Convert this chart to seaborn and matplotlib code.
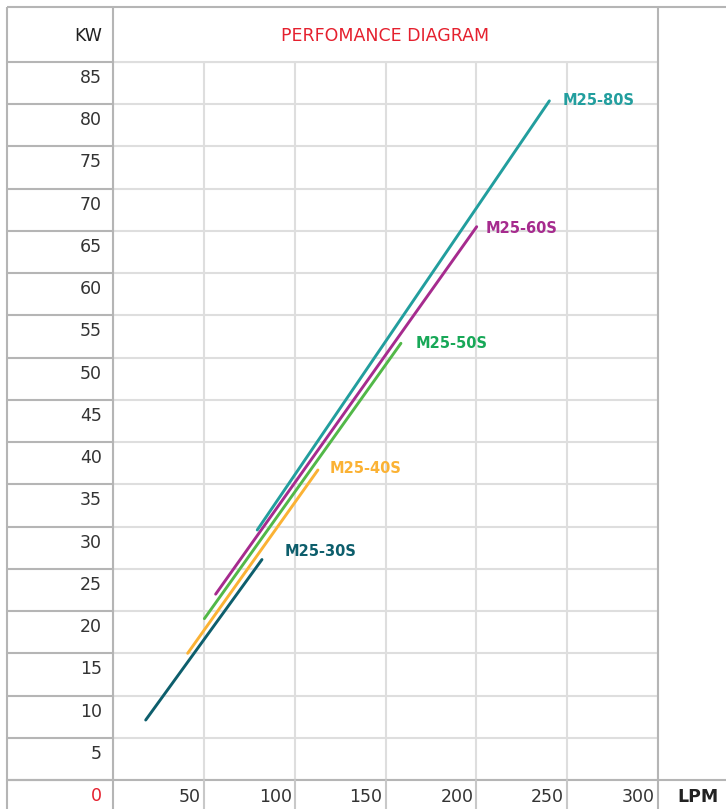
import matplotlib
matplotlib.use("Agg")
import matplotlib.pyplot as plt
import matplotlib.transforms as mtransforms
from matplotlib.lines import Line2D
import pandas as pd
import seaborn as sns

# ---------------- data ----------------
models = ["M25-30S", "M25-40S", "M25-50S", "M25-60S", "M25-80S"]
lpm_start = [18.0, 41.1, 50.3, 56.5, 79.4]
kw_start = [7.1, 15.0, 19.1, 22.0, 29.6]
lpm_end = [82.0, 112.8, 158.5, 200.2, 240.2]
kw_end = [26.1, 36.7, 51.7, 65.5, 80.4]

x_ticks = [50, 100, 150, 200, 250, 300]
y_ticks = [0, 5, 10, 15, 20, 25, 30, 35, 40, 45, 50, 55, 60, 65, 70, 75, 80, 85]
title_text = "PERFOMANCE DIAGRAM"
x_unit = "LPM"
y_unit = "KW"

# ---------------- styles ----------------
line_colors = {"M25-30S": "#0d5e6c", "M25-40S": "#fbb234", "M25-50S": "#52b848",
               "M25-60S": "#a62b8e", "M25-80S": "#229e9e"}
label_colors = {"M25-30S": "#0d5e6c", "M25-40S": "#fbb234", "M25-50S": "#18a858",
                "M25-60S": "#a62b8e", "M25-80S": "#229e9e"}
label_offsets = {"M25-30S": (23, 8), "M25-40S": (12, 1), "M25-50S": (15, 0),
                 "M25-60S": (9, -2), "M25-80S": (13, 0)}

RED = "#e5202e"
TXT = "#333333"
GRID = "#dedede"
TABLE = "#b5b5b5"

sns.set_theme(style="white")
plt.rcParams["font.family"] = ["DejaVu Sans"]

W, H = 726, 809
fig = plt.figure(figsize=(W / 100, H / 100), dpi=100)
fig.patch.set_facecolor("white")


def fx(px):
    return px / W


def fy(py):
    return 1 - py / H


ax = fig.add_axes([fx(113), fy(780), (658 - 113) / W, (780 - 62) / H])

rows = []
for m, x0, y0, x1, y1 in zip(models, lpm_start, kw_start, lpm_end, kw_end):
    rows.append({"model": m, "LPM": x0, "KW": y0})
    rows.append({"model": m, "LPM": x1, "KW": y1})
df = pd.DataFrame(rows)

sns.lineplot(data=df, x="LPM", y="KW", hue="model", palette=line_colors,
             estimator=None, linewidth=2.1, legend=False, ax=ax, zorder=3)

ax.set_xlim(0, 300)
ax.set_ylim(0, 85)
ax.set_xticks([0] + x_ticks)
ax.set_yticks(y_ticks)
ax.grid(True, color=GRID, linewidth=1.5)
ax.set_axisbelow(True)
ax.tick_params(length=0, labelbottom=False, labelleft=False)
ax.set_xlabel("")
ax.set_ylabel("")
for s in ax.spines.values():
    s.set_visible(False)

# series labels
for m, x1, y1 in zip(models, lpm_end, kw_end):
    dx, dy = label_offsets[m]
    ax.annotate(m, xy=(x1, y1), xytext=(dx, dy), textcoords="offset pixels",
                ha="left", va="center", fontsize=10.5, fontweight="bold",
                color=label_colors[m], annotation_clip=False)

# ---------------- table structure ----------------
fig_tr = fig.transFigure
blend_y = mtransforms.blended_transform_factory(fig_tr, ax.transData)
blend_x = mtransforms.blended_transform_factory(ax.transData, fig_tr)


def fline(x0, y0, x1, y1, color=TABLE, lw=1.5, z=5):
    fig.add_artist(Line2D([fx(x0), fx(x1)], [fy(y0), fy(y1)], transform=fig_tr,
                          color=color, linewidth=lw, solid_capstyle="butt", zorder=z))


# header bottom line inside the plot area (light)
fig.add_artist(Line2D([fx(113), fx(658)], [y_ticks[-1], y_ticks[-1]], transform=blend_y,
                      color=GRID, linewidth=1.5, zorder=4))
fline(7, 7, 726, 7)          # top border
fline(7, 7, 7, 809)          # left border
fline(113, 7, 113, 809)      # label column
fline(658, 7, 658, 809)      # right column
# left column horizontal separators
for v in y_ticks:
    fig.add_artist(Line2D([fx(7), fx(113)], [v, v], transform=blend_y,
                          color=TABLE, linewidth=1.5, zorder=5))
# bottom row line across full width
fig.add_artist(Line2D([fx(7), fx(726)], [0, 0], transform=blend_y,
                      color=TABLE, linewidth=1.5, zorder=5))
# bottom row separators
for v in x_ticks[:-1]:
    fig.add_artist(Line2D([v, v], [fy(780), fy(809)], transform=blend_x,
                          color="#c8c8c8", linewidth=1.5, zorder=5))

# ---------------- texts ----------------
for v in y_ticks:
    ax.annotate(str(v), xy=(0, v), xycoords=("axes fraction", "data"),
                xytext=(-11, -16), textcoords="offset pixels",
                ha="right", va="center", fontsize=12.5,
                color=RED if v == 0 else TXT, annotation_clip=False)
for v in x_ticks:
    ax.annotate(str(v), xy=(v, 0), xycoords=("data", "axes fraction"),
                xytext=(-3, -17), textcoords="offset pixels",
                ha="right", va="center", fontsize=12.5, color=TXT,
                annotation_clip=False)

fig.text(fx(102), fy(36), y_unit, ha="right", va="center", fontsize=12.5, color="#222222")
fig.text(fx(385.5), fy(36), title_text, ha="center", va="center", fontsize=12.5, color=RED)
fig.text(fx(698), fy(797), x_unit, ha="center", va="center", fontsize=12.5,
         fontweight="bold", color="#222222")

fig.savefig("out.png", dpi=100, facecolor="white")
